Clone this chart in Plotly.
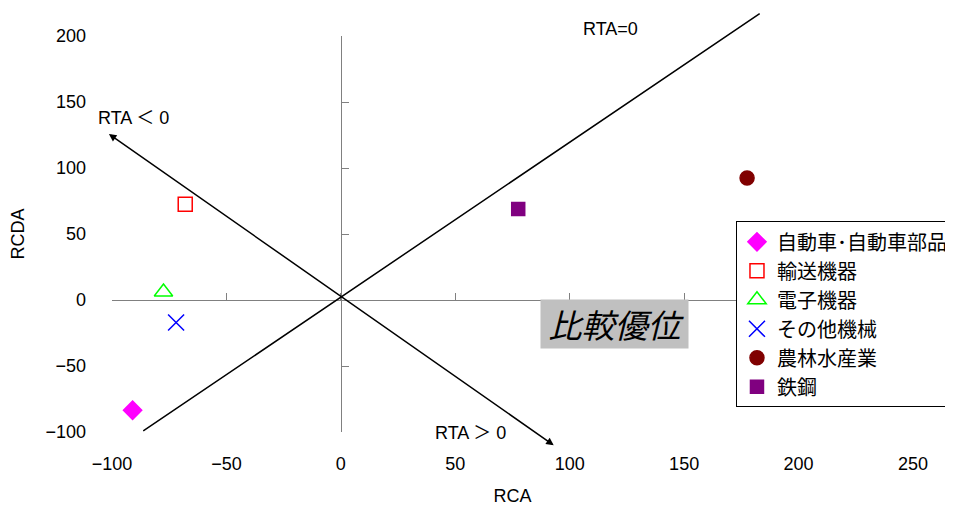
import plotly.graph_objects as go

# ---- data ----
sectors = ["自動車･自動車部品", "輸送機器", "電子機器", "その他機械", "農林水産業", "鉄鋼"]
rca = [-91, -68, -77.5, -72, 177.5, 77.5]
rcda = [-83.5, 72.5, 6, -17, 92.5, 69]
symbols = ["diamond", "square-open", "triangle-up-open", "x-thin-open", "circle", "square"]
colors = ["#FF00FF", "#FF0000", "#00FF00", "#0000FF", "#800000", "#800080"]
sizes = [14, 14, 16, 16, 14, 13]

x_range = [-100, 250]
y_range = [-100, 200]
x_ticks = [-100, -50, 0, 50, 100, 150, 200, 250]
y_ticks = [-100, -50, 0, 50, 100, 150, 200]

# reference lines (endpoints)
rta0_line = {"x0": -87, "y0": -100, "x1": 183, "y1": 217}
rta_arrow = {"x0": -102, "y0": 126.5, "x1": 93, "y1": -110}

FONT = "Liberation Sans, Arial, Noto Sans CJK JP, sans-serif"
JFONT = "Noto Sans CJK JP, sans-serif"

fig = go.Figure()
for i, name in enumerate(sectors):
    fig.add_trace(go.Scatter(
        x=[rca[i]], y=[rcda[i]], mode="markers", name=name,
        legendgroup=f"g{i}",
        marker=dict(symbol=symbols[i], size=sizes[i], color=colors[i],
                    line=dict(color=colors[i], width=1.5)),
        cliponaxis=False,
    ))

# dummy trace to instantiate crossing axes
fig.add_trace(go.Scatter(x=[None], y=[None], xaxis="x2", yaxis="y2",
                         showlegend=False, hoverinfo="skip"))

fig.update_layout(
    width=945, height=498,
    margin=dict(l=104, r=40, t=28, b=74, autoexpand=False),
    paper_bgcolor="white", plot_bgcolor="white",
    font=dict(family=FONT, size=18, color="black"),
    showlegend=True,
    legend=dict(x=0.779, y=0.532, xanchor="left", yanchor="top",
                bordercolor="black", borderwidth=1, bgcolor="white",
                font=dict(family=JFONT, size=20), tracegroupgap=0,
                itemwidth=30, entrywidth=230, entrywidthmode="pixels"),
    xaxis=dict(range=x_range, tickvals=x_ticks, showline=False, showgrid=False,
               zeroline=False, ticks="", ticklabelstandoff=19,
               title=dict(text="RCA", font=dict(size=18), standoff=16)),
    yaxis=dict(range=y_range, tickvals=y_ticks, showline=False, showgrid=False,
               zeroline=False, ticks="", ticklabelstandoff=25,
               title=dict(text="RCDA", font=dict(size=18), standoff=21)),
    xaxis2=dict(range=x_range, tickvals=x_ticks, overlaying="x", anchor="free",
                position=(0 - y_range[0]) / (y_range[1] - y_range[0]),
                side="bottom", showline=True, linecolor="#808080", linewidth=1,
                ticks="inside", ticklen=7, tickcolor="#808080",
                showticklabels=False, showgrid=False, zeroline=False),
    yaxis2=dict(range=y_range, tickvals=y_ticks, overlaying="y", anchor="free",
                position=(0 - x_range[0]) / (x_range[1] - x_range[0]),
                side="left", showline=True, linecolor="#808080", linewidth=1,
                ticks="inside", ticklen=7, tickcolor="#808080",
                showticklabels=False, showgrid=False, zeroline=False),
)

# RTA=0 line
fig.add_annotation(x=rta0_line["x1"], y=rta0_line["y1"], ax=rta0_line["x0"], ay=rta0_line["y0"],
                   xref="x", yref="y", axref="x", ayref="y", text="", showarrow=True,
                   arrowhead=0, arrowwidth=1.5, arrowcolor="black", standoff=0, startstandoff=0)
# RTA arrow (double-headed)
fig.add_annotation(x=rta_arrow["x1"], y=rta_arrow["y1"], ax=rta_arrow["x0"], ay=rta_arrow["y0"],
                   xref="x", yref="y", axref="x", ayref="y", text="", showarrow=True,
                   arrowhead=2, startarrowhead=2, arrowside="end+start", arrowsize=1,
                   startarrowsize=1, arrowwidth=1.5, arrowcolor="black",
                   standoff=0, startstandoff=0)

fig.add_annotation(x=118, y=1.018, xref="x", yref="paper", text="RTA=0", showarrow=False,
                   xanchor="center", yanchor="middle", font=dict(size=18))
fig.add_annotation(x=-90.5, y=138, xref="x", yref="y", text="RTA ＜ 0", showarrow=False,
                   xanchor="center", yanchor="middle", font=dict(size=18))
fig.add_annotation(x=56.5, y=-0.003, xref="x", yref="paper", text="RTA ＞ 0", showarrow=False,
                   xanchor="center", yanchor="middle", font=dict(size=18))
fig.add_annotation(x=119.7, y=-18.5, xref="x", yref="y", text="<i>&nbsp;比較優位&nbsp;</i>",
                   showarrow=False, xanchor="center", yanchor="middle",
                   font=dict(family=JFONT, size=33), bgcolor="#C0C0C0", borderpad=0)

fig.write_html("out.html")
